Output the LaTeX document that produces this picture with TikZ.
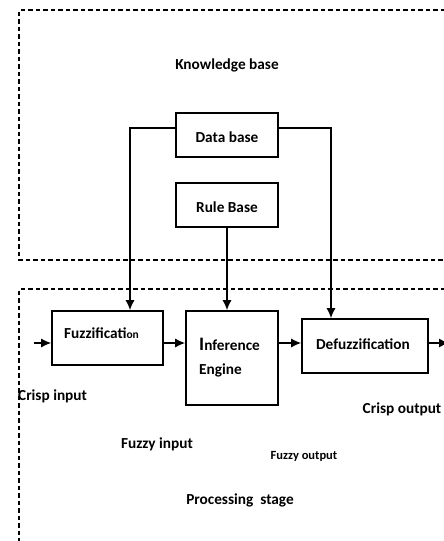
\documentclass[tikz,border=0pt]{standalone}
\usepackage{fontspec}
\setmainfont{Carlito}
\usetikzlibrary{arrows.meta}
\begin{document}
\begin{tikzpicture}[x=1pt,y=-1pt,
  box/.style={draw,line width=1.6pt,inner sep=0pt},
  lbl/.style={font=\bfseries\fontsize{15.3}{17}\selectfont,inner sep=0pt},
  dbox/.style={draw,line width=1.4pt,dash pattern=on 4.5pt off 3pt},
  arr/.style={line width=1.4pt,-{Latex[length=10pt,width=9pt]}}]
\useasboundingbox (0,0) rectangle (444,541);
\clip (0,0) rectangle (444,541);
% dashed regions
\draw[dbox] (460,10) -- (19,10) -- (19,260) -- (460,260);
\draw[dbox] (460,289) -- (19,289) -- (19,560);
% knowledge base
\node[lbl] (kb) at (227,65) {Knowledge base};
\node[box,minimum width=102pt,minimum height=44pt] (db) at (227,135) {};
\node[lbl] (dbt) at (227,137) {Data base};
\node[box,minimum width=102pt,minimum height=44pt] (rb) at (227,205) {};
\node[lbl] (rbt) at (227,207) {Rule Base};
% processing
\node[box,minimum width=111pt,minimum height=54pt] (fz) at (107.5,338) {};
\node[lbl,anchor=west] (fzt) at (64,333) {Fuzzificati{\fontsize{11.5}{13}\selectfont on}};
\node[box,minimum width=92pt,minimum height=94pt] (ie) at (232,358) {};
\node[lbl,anchor=west] (iet1) at (199,344) {{\fontsize{19}{19}\selectfont I}nference};
\node[lbl,anchor=west] (iet2) at (199,370) {Engine};
\node[box,minimum width=126pt,minimum height=54pt] (df) at (365,346) {};
\node[lbl] (dft) at (363,344) {Defuzzification};
% labels
\node[lbl,anchor=west] (ci) at (18,396) {Crisp input};
\node[lbl] (fi) at (157,444) {Fuzzy input};
\node[font=\bfseries\fontsize{12.5}{14}\selectfont,inner sep=0pt] (fo) at (304,456) {Fuzzy output};
\node[lbl] (co) at (402,409) {Crisp output};
\node[lbl] (ps) at (240,500) {Processing\ \ stage};
% connectors
\coordinate (inL) at (34,343);
\coordinate (outR) at (449,343);
\draw[arr] (db.west |- 0,128) -| (fz.north -| 130,0);
\draw[arr] (db.east |- 0,128) -| (df.north -| 331,0);
\draw[arr] (rb.south) -- (ie.north -| rb.south);
\draw[arr] (inL) -- (fz.west |- inL);
\draw[arr] (fz.east |- 0,343) -- (ie.west |- 0,343);
\draw[arr] (ie.east |- 0,343) -- (df.west |- 0,343);
\draw[arr] (df.east |- 0,343) -- (outR);
\end{tikzpicture}
\end{document}
